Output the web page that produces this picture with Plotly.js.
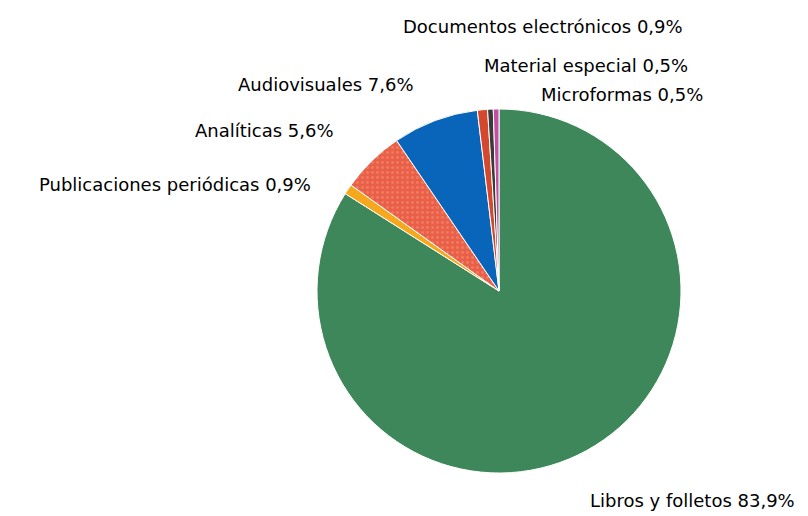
<!DOCTYPE html>
<html>
<head>
<meta charset="utf-8">
<script src="https://cdn.plot.ly/plotly-3.0.1.min.js"></script>
<style>html,body{margin:0;padding:0;background:#fff;}#chart{width:808px;height:516px;}</style>
</head>
<body>
<div id="chart"></div>
<script>
// Data
const categories = ["Libros y folletos", "Publicaciones periódicas", "Analíticas", "Audiovisuales", "Documentos electrónicos", "Material especial", "Microformas"];
const percentages = [83.9, 0.9, 5.6, 7.6, 0.9, 0.5, 0.5];
const sliceColors = ["#3d875a", "#f5a81e", "#ea5f48", "#0865b9", "#d4482e", "#3a3a3a", "#c24fa3"];
const slicePatterns = ["", "", ".", "", "", "", ""];

// Label placement (layout only, pixel centres in the 808x516 frame)
const labelPos = [[692, 500], [175, 185], [264, 130], [326, 85], [543, 27], [586, 65], [622, 94]];

const W = 808, H = 516;
const cx = 499, cy = 291, r = 182;

const fmt = v => v.toFixed(1).replace('.', ',') + '%';

const trace = {
  type: 'pie',
  labels: categories,
  values: percentages,
  sort: false,
  direction: 'clockwise',
  rotation: 0,
  textinfo: 'none',
  hoverinfo: 'label+percent',
  showlegend: false,
  marker: {
    colors: sliceColors,
    line: {color: '#ffffff', width: 1},
    pattern: {shape: slicePatterns, fgcolor: '#f49a7c', size: 5, solidity: 0.25, fillmode: 'overlay'}
  },
  domain: {
    x: [(cx - r) / W, (cx + r) / W],
    y: [1 - (cy + r) / H, 1 - (cy - r) / H]
  }
};

const annotations = categories.map((c, i) => ({
  text: c + ' ' + fmt(percentages[i]),
  xref: 'paper', yref: 'paper',
  x: labelPos[i][0] / W, y: 1 - labelPos[i][1] / H,
  xanchor: 'center', yanchor: 'middle',
  showarrow: false,
  font: {family: 'DejaVu Sans, Arial, sans-serif', size: 18, color: '#000000'}
}));

const layout = {
  width: W, height: H,
  margin: {l: 0, r: 0, t: 0, b: 0},
  paper_bgcolor: '#ffffff',
  plot_bgcolor: '#ffffff',
  showlegend: false,
  annotations: annotations
};

Plotly.newPlot('chart', [trace], layout, {displayModeBar: false, staticPlot: true});
</script>
</body>
</html>
